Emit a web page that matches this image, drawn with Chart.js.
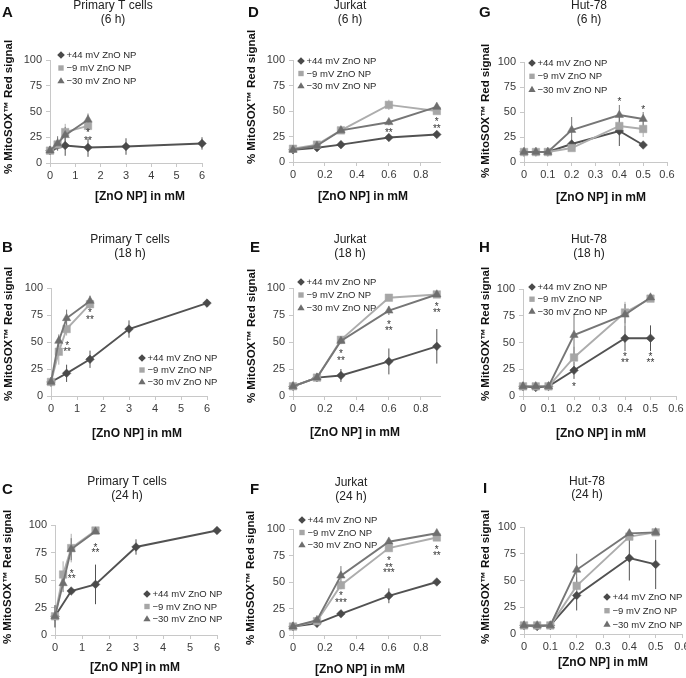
<!DOCTYPE html>
<html>
<head>
<meta charset="utf-8">
<script src="https://cdn.jsdelivr.net/npm/chart.js@4.4.1/dist/chart.umd.min.js"></script>
<style>
html, body { margin: 0; padding: 0; background: #fff; }
body { width: 686px; height: 678px; overflow: hidden; position: relative; }
canvas { position: absolute; }
</style>
</head>
<body>
<script>
// doses, mM
const primaryDosePos = [0, 0.6, 1.5, 3, 6];
const primaryDoseNeg = [0, 0.3, 0.6, 1.5];
const jurkatDose = [0, 0.15, 0.3, 0.6, 0.9];
const hutDose = [0, 0.05, 0.1, 0.2, 0.4, 0.5];

// tick labels
const yTickValues = [0, 25, 50, 75, 100];
const primaryTicks = [0, 1, 2, 3, 4, 5, 6];
const jurkatTicks = [0, 0.2, 0.4, 0.6, 0.8];
const hutTicks = [0, 0.1, 0.2, 0.3, 0.4, 0.5, 0.6];

const seriesLabels = ['+44 mV ZnO NP', '\u22129 mV ZnO NP', '\u221230 mV ZnO NP'];

// A  primary T cells, 6 h
const aPos = [12, 17, 15, 16, 19],      aPosErr = [3, 10, 9, 8, 6];
const aNeg9 = [12, 18, 30, 36],         aNeg9Err = [3, 6, 8, 5];
const aNeg30 = [12, 19, 27, 42],        aNeg30Err = [3, 7, 8, 6];
// B  primary T cells, 18 h
const bPos = [13, 21, 34, 62, 86],      bPosErr = [4, 8, 8, 8, 3];
const bNeg9 = [13, 41, 62, 85],         bNeg9Err = [3, 12, 6, 3];
const bNeg30 = [13, 51, 72, 88],        bNeg30Err = [3, 6, 8, 5];
// C  primary T cells, 24 h
const cPos = [17, 40, 46, 80, 95],      cPosErr = [10, 2, 18, 7, 1];
const cNeg9 = [17, 55, 79, 95],         cNeg9Err = [10, 12, 13, 2];
const cNeg30 = [17, 47, 78, 94],        cNeg30Err = [10, 8, 10, 2];
// D  Jurkat, 6 h
const dPos = [12, 14, 17, 24, 27],      dPosErr = [2, 2, 2, 2, 2];
const dNeg9 = [13, 17, 31, 56, 50],     dNeg9Err = [2, 2, 2, 5, 3];
const dNeg30 = [12, 16, 31, 39, 54],    dNeg30Err = [2, 2, 2, 3, 2];
// E  Jurkat, 18 h
const ePos = [9, 17, 19, 32, 46],       ePosErr = [2, 2, 6, 12, 16];
const eNeg9 = [9, 17, 52, 91, 94],      eNeg9Err = [2, 2, 3, 2, 2];
const eNeg30 = [9, 17, 51, 79, 94],     eNeg30Err = [2, 2, 3, 4, 2];
// F  Jurkat, 24 h
const fPos = [8, 11, 20, 37, 50],       fPosErr = [2, 2, 2, 7, 2];
const fNeg9 = [8, 13, 47, 82, 92],      fNeg9Err = [2, 2, 4, 3, 2];
const fNeg30 = [8, 14, 56, 88, 96],     fNeg30Err = [2, 2, 9, 2, 2];
// G  Hut-78, 6 h
const gPos = [10, 10, 10, 18, 31, 17],  gPosErr = [2, 2, 2, 4, 15, 2];
const gNeg9 = [10, 10, 10, 14, 36, 33], gNeg9Err = [2, 2, 2, 3, 5, 8];
const gNeg30 = [10, 10, 10, 32, 47, 43], gNeg30Err = [2, 2, 2, 13, 10, 7];
// H  Hut-78, 18 h
const hPos = [9, 8, 9, 24, 54, 54],     hPosErr = [2, 2, 2, 8, 12, 12];
const hNeg9 = [9, 9, 9, 36, 78, 91],    hNeg9Err = [2, 2, 2, 10, 10, 2];
const hNeg30 = [9, 9, 9, 57, 76, 92],   hNeg30Err = [2, 2, 2, 20, 10, 2];
// I  Hut-78, 24 h
const iPos = [8, 7, 8, 36, 71, 65],     iPosErr = [2, 2, 2, 14, 21, 23];
const iNeg9 = [8, 8, 8, 45, 91, 95],    iNeg9Err = [2, 2, 2, 8, 3, 2];
const iNeg30 = [8, 8, 8, 60, 94, 95],   iNeg30Err = [2, 2, 2, 15, 3, 2];

// significance marks [dose, signal, text]
const aStars = [[1.5, 32, '*'], [1.5, 24, '**']];
const bStars = [[0.62, 49, '*'], [0.62, 43, '**'], [1.5, 79, '*'], [1.5, 73, '**']];
const cStars = [[0.62, 58, '*'], [0.62, 53, '**'], [1.5, 82, '*'], [1.5, 77, '**']];
const dStars = [[0.6, 31, '**'], [0.9, 42, '*'], [0.9, 35, '**']];
const eStars = [[0.3, 41, '*'], [0.3, 35, '**'], [0.6, 68, '*'], [0.6, 63, '**'], [0.9, 85, '*'], [0.9, 79, '**']];
const fStars = [[0.3, 39, '*'], [0.3, 33, '***'], [0.6, 72, '*'], [0.6, 66, '**'], [0.6, 61, '***'], [0.9, 83, '*'], [0.9, 77, '**']];
const gStars = [[0.4, 63, '*'], [0.5, 55, '*']];
const hStars = [[0.2, 11, '*'], [0.4, 39, '*'], [0.4, 33, '**'], [0.5, 39, '*'], [0.5, 33, '**']];
const iStars = [];

const FONT = '"Liberation Sans", Arial, sans-serif';
const axisColor = '#c8c8c8';
const Y_AXIS_W = 32, X_AXIS_H = 20;
const marks = [
  {style: 'rectRot', fill: '#4a4a4a', line: '#525252', r: 4.3},
  {style: 'rect', fill: '#a6a6a6', line: '#adadad', r: 5.3},
  {style: 'triangle', fill: '#6e6e6e', line: '#767676', r: 4.8}
];

function trio(xp, xn, p, pe, n9, n9e, n30, n30e) {
  return [{x: xp, y: p, e: pe}, {x: xn, y: n9, e: n9e}, {x: xn, y: n30, e: n30e}];
}

const panels = [
  {key: 'A', cell: [0, 0, 228, 225], plot: [50, 60, 202, 163], xMax: 6, xTicks: primaryTicks,
   title: ['Primary T cells', '(6 h)'], titleX: 113, titleY: [6, 20], letter: [2, 13],
   yTitle: [9, 107], xTitle: [140, 197], legend: [61, 55, 13], stars: aStars,
   series: trio(primaryDosePos, primaryDoseNeg, aPos, aPosErr, aNeg9, aNeg9Err, aNeg30, aNeg30Err)},
  {key: 'B', cell: [0, 225, 228, 225], plot: [51, 288, 207, 396], xMax: 6, xTicks: primaryTicks,
   title: ['Primary T cells', '(18 h)'], titleX: 130, titleY: [240, 254], letter: [2, 248],
   yTitle: [9, 334], xTitle: [137, 434], legend: [142, 358, 12], stars: bStars,
   series: trio(primaryDosePos, primaryDoseNeg, bPos, bPosErr, bNeg9, bNeg9Err, bNeg30, bNeg30Err)},
  {key: 'C', cell: [0, 450, 228, 228], plot: [55, 525, 217, 635], xMax: 6, xTicks: primaryTicks,
   title: ['Primary T cells', '(24 h)'], titleX: 127, titleY: [482, 496], letter: [2, 490],
   yTitle: [8, 577], xTitle: [135, 668], legend: [147, 594, 12.5], stars: cStars,
   series: trio(primaryDosePos, primaryDoseNeg, cPos, cPosErr, cNeg9, cNeg9Err, cNeg30, cNeg30Err)},
  {key: 'D', cell: [228, 0, 228, 225], plot: [293, 60, 440, 162], xMax: 0.92, xTicks: jurkatTicks,
   title: ['Jurkat', '(6 h)'], titleX: 350, titleY: [6, 20], letter: [248, 13],
   yTitle: [252, 97], xTitle: [363, 197], legend: [301, 61, 12.5], stars: dStars,
   series: trio(jurkatDose, jurkatDose, dPos, dPosErr, dNeg9, dNeg9Err, dNeg30, dNeg30Err)},
  {key: 'E', cell: [228, 225, 228, 225], plot: [293, 288, 440, 396], xMax: 0.92, xTicks: jurkatTicks,
   title: ['Jurkat', '(18 h)'], titleX: 350, titleY: [240, 254], letter: [250, 248],
   yTitle: [252, 336], xTitle: [355, 433], legend: [301, 282, 13], stars: eStars,
   series: trio(jurkatDose, jurkatDose, ePos, ePosErr, eNeg9, eNeg9Err, eNeg30, eNeg30Err)},
  {key: 'F', cell: [228, 450, 228, 228], plot: [293, 529, 440, 635], xMax: 0.92, xTicks: jurkatTicks,
   title: ['Jurkat', '(24 h)'], titleX: 351, titleY: [483, 497], letter: [250, 490],
   yTitle: [251, 578], xTitle: [360, 670], legend: [302, 520, 12.5], stars: fStars,
   series: trio(jurkatDose, jurkatDose, fPos, fPosErr, fNeg9, fNeg9Err, fNeg30, fNeg30Err)},
  {key: 'G', cell: [456, 0, 240, 225], plot: [524, 62, 667, 162], xMax: 0.6, xTicks: hutTicks,
   title: ['Hut-78', '(6 h)'], titleX: 589, titleY: [6, 20], letter: [479, 13],
   yTitle: [486, 111], xTitle: [601, 198], legend: [532, 63, 13.3], stars: gStars,
   series: trio(hutDose, hutDose, gPos, gPosErr, gNeg9, gNeg9Err, gNeg30, gNeg30Err)},
  {key: 'H', cell: [456, 225, 240, 225], plot: [523, 289, 676, 396], xMax: 0.6, xTicks: hutTicks,
   title: ['Hut-78', '(18 h)'], titleX: 589, titleY: [240, 254], letter: [479, 248],
   yTitle: [486, 334], xTitle: [601, 434], legend: [532, 287, 12.2], stars: hStars,
   series: trio(hutDose, hutDose, hPos, hPosErr, hNeg9, hNeg9Err, hNeg30, hNeg30Err)},
  {key: 'I', cell: [456, 450, 240, 228], plot: [524, 527, 682, 634], xMax: 0.6, xTicks: hutTicks,
   title: ['Hut-78', '(24 h)'], titleX: 587, titleY: [482, 495], letter: [483, 489],
   yTitle: [486, 577], xTitle: [603, 663], legend: [607, 597, 13.7], stars: iStars,
   series: trio(hutDose, hutDose, iPos, iPosErr, iNeg9, iNeg9Err, iNeg30, iNeg30Err)}
];

function drawMarker(ctx, m, x, y, r) {
  ctx.fillStyle = m.fill;
  ctx.beginPath();
  if (m.style === 'rectRot') {
    ctx.moveTo(x, y - r); ctx.lineTo(x + r, y); ctx.lineTo(x, y + r); ctx.lineTo(x - r, y);
  } else if (m.style === 'rect') {
    const s = r * Math.SQRT1_2;
    ctx.rect(x - s, y - s, 2 * s, 2 * s);
  } else {
    ctx.moveTo(x, y - r); ctx.lineTo(x + r * 0.95, y + r * 0.6); ctx.lineTo(x - r * 0.95, y + r * 0.6);
  }
  ctx.closePath();
  ctx.fill();
}

const errorBars = {
  id: 'errorBars',
  beforeDatasetsDraw(chart) {
    const ctx = chart.ctx, ys = chart.scales.y;
    ctx.save();
    chart.data.datasets.forEach((ds, i) => {
      const meta = chart.getDatasetMeta(i);
      ctx.strokeStyle = ds.borderColor;
      ctx.lineWidth = 1;
      meta.data.forEach((pt, j) => {
        const v = ds.data[j].y, e = ds.err[j];
        ctx.beginPath();
        ctx.moveTo(pt.x, ys.getPixelForValue(v - e));
        ctx.lineTo(pt.x, ys.getPixelForValue(v + e));
        ctx.stroke();
      });
    });
    ctx.restore();
  }
};

function panelText(p) {
  return {
    id: 'panelText',
    afterDraw(chart) {
      const ctx = chart.ctx;
      const cx = p.cell[0], cy = p.cell[1];
      ctx.save();
      ctx.fillStyle = '#111';
      ctx.textBaseline = 'middle';
      ctx.textAlign = 'left';
      ctx.font = 'bold 15px ' + FONT;
      ctx.fillText(p.key, p.letter[0] - cx, p.letter[1] - cy);

      ctx.textAlign = 'center';
      ctx.font = '12px ' + FONT;
      ctx.fillStyle = '#222';
      ctx.fillText(p.title[0], p.titleX - cx, p.titleY[0] - cy);
      ctx.fillText(p.title[1], p.titleX - cx, p.titleY[1] - cy);

      ctx.fillStyle = '#111';
      ctx.font = 'bold 12px ' + FONT;
      ctx.fillText('[ZnO NP] in mM', p.xTitle[0] - cx, p.xTitle[1] - cy);

      ctx.save();
      ctx.translate(p.yTitle[0] - cx, p.yTitle[1] - cy);
      ctx.rotate(-Math.PI / 2);
      ctx.font = 'bold 11.5px ' + FONT;
      ctx.fillText('% MitoSOX\u2122 Red signal', 0, 0);
      ctx.restore();

      // legend
      const [lx, ly, dy] = p.legend;
      ctx.textAlign = 'left';
      ctx.font = '9.5px ' + FONT;
      seriesLabels.forEach((lab, i) => {
        const y = ly + i * dy - cy;
        drawMarker(ctx, marks[i], lx - cx, y, 3.8);
        ctx.fillStyle = '#2a2a2a';
        ctx.fillText(lab, lx - cx + 5.5, y + 0.5);
      });

      // significance marks
      const xs = chart.scales.x, ys = chart.scales.y;
      ctx.textAlign = 'center';
      ctx.textBaseline = 'alphabetic';
      ctx.font = '10px ' + FONT;
      ctx.fillStyle = '#333';
      p.stars.forEach(([x, y, s]) => {
        ctx.fillText(s, xs.getPixelForValue(x), ys.getPixelForValue(y) + 5.7);
      });
      ctx.restore();
    }
  };
}

panels.forEach(p => {
  const [cx, cy, cw, ch] = p.cell;
  const [l, t, r, b] = p.plot;
  const cv = document.createElement('canvas');
  cv.width = cw;
  cv.height = ch;
  cv.style.left = cx + 'px';
  cv.style.top = cy + 'px';
  document.body.appendChild(cv);

  const datasets = p.series.map((s, i) => ({
    label: seriesLabels[i],
    data: s.x.map((x, j) => ({x: x, y: s.y[j]})),
    err: s.e,
    borderColor: marks[i].line,
    backgroundColor: marks[i].fill,
    borderWidth: 1.9,
    pointStyle: marks[i].style,
    pointRadius: marks[i].r,
    pointBackgroundColor: marks[i].fill,
    pointBorderColor: marks[i].fill,
    pointBorderWidth: 0.5,
    tension: 0,
    clip: false,
    order: 2 - i
  }));

  const tickFont = {family: FONT, size: 11};
  new Chart(cv, {
    type: 'line',
    data: {datasets: datasets},
    options: {
      responsive: false,
      animation: false,
      events: [],
      layout: {padding: {left: l - cx - Y_AXIS_W, top: t - cy, right: cx + cw - r, bottom: cy + ch - b - X_AXIS_H}},
      plugins: {legend: {display: false}, tooltip: {enabled: false}},
      scales: {
        x: {
          type: 'linear', min: 0, max: p.xMax,
          afterFit: s => { s.height = X_AXIS_H; },
          afterBuildTicks: s => { s.ticks = p.xTicks.map(v => ({value: v})); },
          grid: {drawOnChartArea: false, tickLength: 4, color: axisColor},
          border: {color: axisColor},
          ticks: {font: tickFont, color: '#3a3a3a', padding: 2, maxRotation: 0, autoSkip: false}
        },
        y: {
          type: 'linear', min: 0, max: 100,
          afterFit: s => { s.width = Y_AXIS_W; },
          afterBuildTicks: s => { s.ticks = yTickValues.map(v => ({value: v})); },
          grid: {drawOnChartArea: false, tickLength: 4, color: axisColor},
          border: {color: axisColor},
          ticks: {font: tickFont, color: '#3a3a3a', padding: 4}
        }
      }
    },
    plugins: [errorBars, panelText(p)]
  });
});
</script>
</body>
</html>
